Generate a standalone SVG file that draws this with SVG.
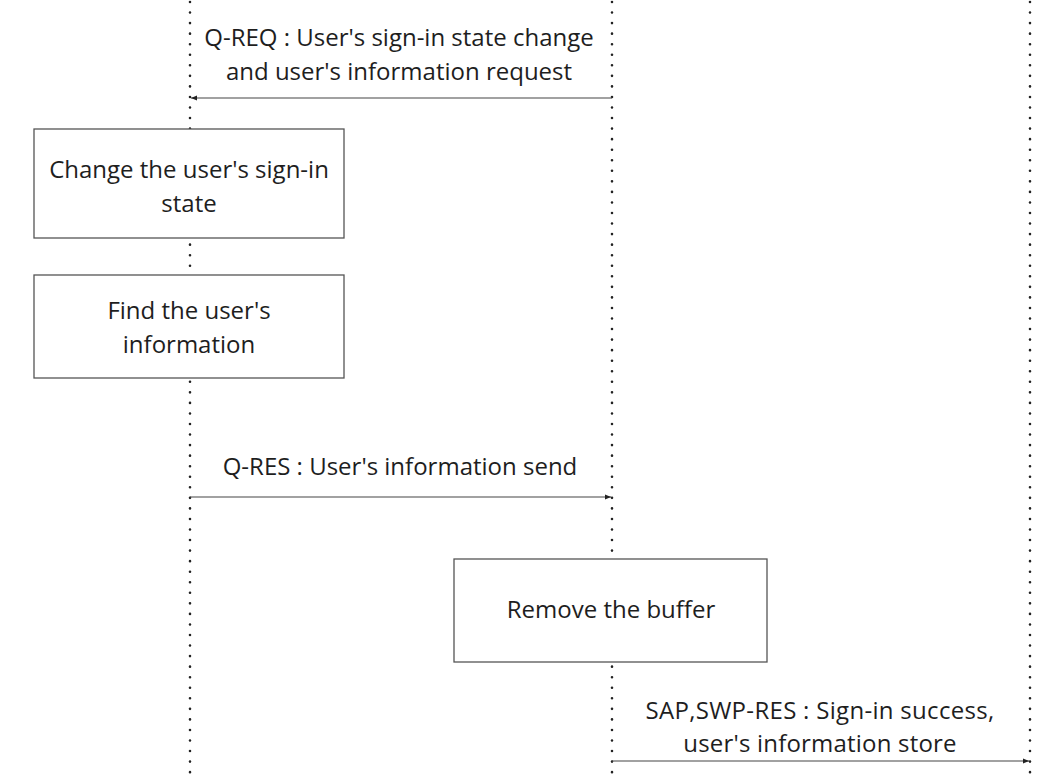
<svg xmlns="http://www.w3.org/2000/svg" width="1059" height="781" viewBox="0 0 1059 781">
<defs>
<style>
.life{stroke:#222;stroke-width:2.6;stroke-linecap:round;stroke-dasharray:0 10.55;fill:none}
.box{fill:#fff;stroke:#555;stroke-width:1.3}
.msg{stroke:#444;stroke-width:1.2;fill:none}
text{font-family:"Open Sans","Liberation Sans",sans-serif;font-size:24px;fill:#1e1e1e;text-anchor:middle}
</style>
<marker id="ah" viewBox="0 0 8 8" refX="7" refY="4" markerWidth="7" markerHeight="7" markerUnits="userSpaceOnUse" orient="auto">
<path d="M0,1 L7,4 L0,7 Z" fill="#222"/>
</marker>
</defs>
<rect width="1059" height="781" fill="#fff"/>
<g id="lifelines">
<line class="life" x1="190" y1="2" x2="190" y2="781"/>
<line class="life" x1="612" y1="2" x2="612" y2="781"/>
<line class="life" x1="1030" y1="2" x2="1030" y2="781"/>
</g>
<g id="connectors">
<g id="qreq">
<line class="msg" x1="612" y1="98" x2="191" y2="98" marker-end="url(#ah)"/>
<text x="399" y="46">Q-REQ : User's sign-in state change</text>
<text x="399" y="80">and user's information request</text>
</g>
<g id="qres">
<line class="msg" x1="190" y1="497" x2="611" y2="497" marker-end="url(#ah)"/>
<text x="400" y="475">Q-RES : User's information send</text>
</g>
<g id="sapres">
<line class="msg" x1="612" y1="761" x2="1029" y2="761" marker-end="url(#ah)"/>
<text x="820" y="719" letter-spacing="0.3">SAP,SWP-RES : Sign-in success,</text>
<text x="820" y="752" letter-spacing="0.2">user's information store</text>
</g>
</g>
<g id="box-change">
<rect class="box" x="34" y="129" width="310" height="109"/>
<text x="189" y="178">Change the user's sign-in</text>
<text x="189" y="212">state</text>
</g>
<g id="box-find">
<rect class="box" x="34" y="275" width="310" height="103"/>
<text x="189" y="319">Find the user's</text>
<text x="189" y="353">information</text>
</g>
<g id="box-remove">
<rect class="box" x="454" y="559" width="313" height="103"/>
<text x="611" y="618">Remove the buffer</text>
</g>
</svg>
